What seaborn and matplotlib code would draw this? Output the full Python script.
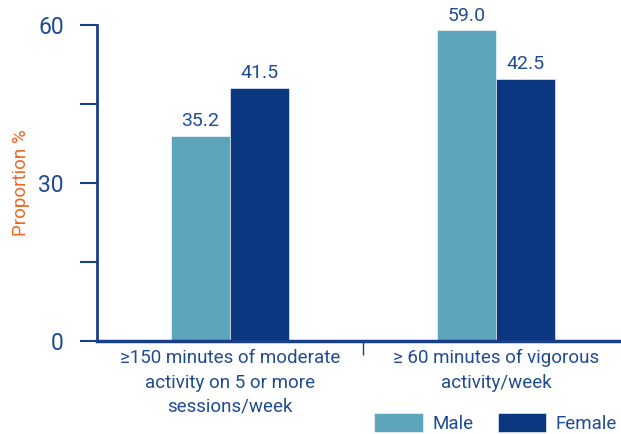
import matplotlib
matplotlib.use("Agg")
import matplotlib.pyplot as plt
import seaborn as sns
import pandas as pd

# values (bar heights as drawn, printed labels as shown)
categories = ["\u2265150 minutes of moderate\nactivity on 5 or more\nsessions/week",
              "\u2265 60 minutes of vigorous\nactivity/week"]
sexes = ["Male", "Female"]
male_heights = [39.0, 59.0]
female_heights = [48.1, 49.8]
male_labels = ["35.2", "59.0"]
female_labels = ["41.5", "42.5"]
y_ticks = [0, 30, 60]

sns.set_style("white")
plt.rcParams['font.family'] = ['Roboto', 'DejaVu Sans']

txt = "#1F4B94"
axis_col = "#1A3F8A"
colors = {"Male": "#5CA5BD", "Female": "#0B3680"}

df = pd.DataFrame({
    "category": categories * 2,
    "sex": ["Male"] * 2 + ["Female"] * 2,
    "value": male_heights + female_heights,
})

fig = plt.figure(figsize=(6.21, 4.34), dpi=100)
ax = fig.add_axes([97 / 621, 1 - 341 / 434, 532 / 621, 316 / 434])

sns.barplot(data=df, x="category", y="value", hue="sex", hue_order=sexes,
            palette=colors, width=0.444, saturation=1, ax=ax,
            edgecolor="white", linewidth=0.4)

for cont, labs in zip(ax.containers, [male_labels, female_labels]):
    ax.bar_label(cont, labels=labs, padding=4, fontsize=14, color=txt)

ax.set_ylim(0, 60)
ax.set_xlim(-0.5, 1.5)
ax.set_yticks(y_ticks)
ax.set_yticks([15, 45], minor=True)
ax.set_xticks([0.5], minor=True)
ax.tick_params(axis="y", which="both", length=12, width=1.5, color=axis_col,
               labelsize=16.5, labelcolor=txt, pad=12, left=True)
ax.tick_params(axis="x", which="major", length=0, labelsize=13.5, labelcolor=txt, pad=6)
ax.tick_params(axis="x", which="minor", length=10, width=1, color=axis_col, bottom=True)
for t in ax.get_xticklabels():
    t.set_linespacing(1.45)

for s in ["top", "right"]:
    ax.spines[s].set_visible(False)
ax.spines["left"].set_color(axis_col)
ax.spines["left"].set_linewidth(2)
ax.spines["bottom"].set_color(axis_col)
ax.spines["bottom"].set_linewidth(2.5)

ax.set_xlabel("")
ax.set_ylabel("Proportion %", color="#F26522", fontsize=13.5)
ax.yaxis.set_label_coords(-67 / 532, 0.5)

handles, labels = ax.get_legend_handles_labels()
ax.get_legend().remove()
fig.legend(handles, labels, loc="center left", bbox_to_anchor=(374 / 621, 1 - 423 / 434),
           ncol=2, frameon=False, fontsize=13.5, labelcolor=txt,
           handlelength=2.6, handleheight=1.2, handletextpad=0.5, columnspacing=1.3,
           borderpad=0, borderaxespad=0)

fig.savefig("out.png", dpi=100)
